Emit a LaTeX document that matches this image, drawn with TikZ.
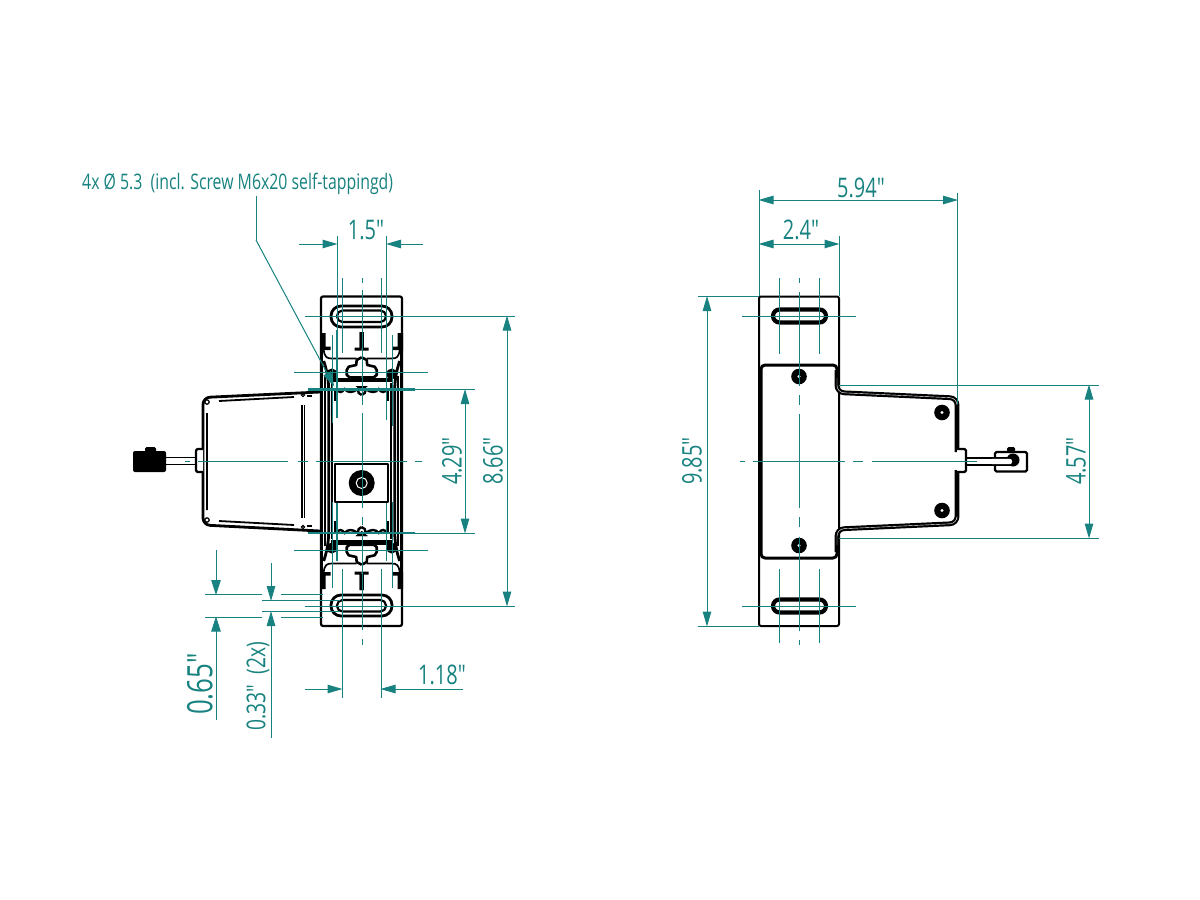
\documentclass[tikz,border=0pt]{standalone}
\usepackage{fontspec}
\newfontfamily\dimfont[FakeStretch=0.74]{Open Sans}
\usetikzlibrary{arrows.meta}
\definecolor{dimteal}{HTML}{17827F}
\tikzset{
	outline/.style={draw=black,line width=2.2pt,line join=round},
	heavy/.style={draw=black,line width=4.2pt,line join=round},
	thin part/.style={draw=black,line width=1.2pt},
	extline/.style={draw=dimteal,line width=1pt},
	dimline/.style={draw=dimteal,line width=1pt,-{Triangle[length=15pt,width=8.5pt]},shorten >=-0.5pt},
	bothtips/.style={{Triangle[length=15pt,width=8.5pt]}-{Triangle[length=15pt,width=8.5pt]},shorten <=-0.5pt},
	dimtext/.style={text=dimteal,font=\dimfont\fontsize{27}{27}\selectfont,inner sep=0pt}
}
\begin{document}
\begin{tikzpicture}[x=1pt,y=-1pt]
	\useasboundingbox (0,0) rectangle (1200,900);

	\draw[outline,rounded corners=2pt] (321,296.5) rectangle (402,626);
	\foreach \sx in {1,-1}
	\foreach \sy in {1,-1}
	{
		\begin{scope}[shift={(361.7,461)},xscale=\sx,yscale=\sy]
			\fill (-41.5,-128) -- (-36,-128) -- (-36,-114.5) -- (-31,-114.5) -- (-31,-111) -- (-41.5,-111) -- cycle;
			\fill (-2.2,-129) rectangle (2.2,-113) (-7,-113.5) rectangle (0,-110.5);
			\draw[thin part,line width=1.7pt] (-38,-111) .. controls (-37,-104) and (-35,-102.5) .. (-30,-102.5) -- (-5,-102.5);
			\draw[thin part,line width=2.6pt,line join=round] (0,-103.7) -- (-5,-101) -- (-5.5,-96) -- (-13,-94.3) -- (-15,-91) -- (-15,-86) -- (-12,-83.7) -- (0,-83.7);
			\fill (-30,-87) circle (5.5);
			\fill (-31,-83.5) rectangle (0,-79);
			\draw[thin part,line width=2.4pt] (0,-66) -- (-3,-68) -- (-4,-72) .. controls (-9,-68) and (-14,-68) .. (-17,-72) .. controls (-20,-68) and (-23,-68) .. (-25,-72);
			\fill (0,-70) -- (-6,-75) -- (6,-75) -- cycle;
			\draw[thin part,line width=3pt] (-40,-111) -- (-40,0);
			\draw[thin part,line width=1.6pt] (-36.5,-85) -- (-36.5,0);
			\draw[thin part,line width=2.8pt] (-38,-100) .. controls (-36,-94) and (-33,-84) .. (-33,-70) -- (-33,0);
			\draw[thin part,line width=2.4pt] (-29.5,-78) -- (-29.5,0);
			\draw[thin part,line width=2.4pt] (-26.5,-72) -- (-26.5,-60);
		\end{scope}
	}
	\fill[white] (335,464) rectangle (388,502);
	\draw[outline] (335,464) rectangle (388,502);
	\fill (361.7,483) circle (13);
	\draw[white,line width=1pt] (361.7,483) circle (5.5);
	\draw[outline,rounded corners=5.5pt,line width=2.2pt] (337,310.5) rectangle (386,322);
	\draw[outline,rounded corners=10pt,line width=2.8pt] (331,306) rectangle (392,327);
	\draw[outline,rounded corners=5.5pt,line width=2.2pt] (337,600) rectangle (386,611.5);
	\draw[outline,rounded corners=10pt,line width=2.8pt] (331,595) rectangle (392,616);

	\draw[outline,line width=2.8pt,rounded corners=7pt] (320,392) -- (203,397.5) -- (203,525) -- (320,531);
	\draw[thin part,line width=1.8pt] (207,413) -- (207,510) (219,401) -- (294,397) (219,521) -- (294,525);
	\draw[thin part] (207,402) circle (2.2) (207,520) circle (2.2) (303,395) circle (1.6) (303,527) circle (1.6);
	\draw[thin part,line width=1.4pt] (302,405) -- (302,518) (304.5,405) -- (304.5,518) (307,396) -- (312,396) (307,526) -- (312,526);
	\draw[outline,fill=white,rounded corners=1.5pt] (203,449) -- (196,449) -- (196,472) -- (203,472);
	\draw[thin part,line width=1.7pt] (166,457.5) -- (196,457.5) (166,464.5) -- (196,464.5);
	\fill[rounded corners=2pt] (133,451) rectangle (166,472);
	\fill[rounded corners=1.5pt] (145,447) rectangle (156,453);

	\draw[outline,line width=2pt,rounded corners=2pt] (759,296.5) rectangle (839,626);
	\draw[heavy,rounded corners=6.5pt] (773,309.5) rectangle (826,322.5);
	\draw[heavy,rounded corners=6.5pt] (773,599.5) rectangle (826,612.5);
	\draw[outline,line width=3pt,rounded corners=4pt] (837,380) -- (837,365) -- (761,365) -- (761,558) -- (837,558) -- (837,540);
	\draw[heavy,line width=4.8pt,rounded corners=7pt] (837,370) -- (837,392.5) -- (957,398) -- (957,452);
	\draw[heavy,line width=4.8pt,rounded corners=7pt] (957,470) -- (957,523.5) -- (837,529) -- (837,552);
	\draw[white,line width=0.4pt,rounded corners=7pt] (837,378) -- (837,392.5) -- (957,398) -- (957,403);
	\draw[white,line width=0.4pt,rounded corners=7pt] (837,545) -- (837,529) -- (957,523.5) -- (957,519);
	\foreach \hx/\hy in {799/376.5,942/412.5,942/510.5,799/545.5}
	{
		\fill (\hx,\hy) circle (7.8);
		\fill[white] (\hx,\hy) circle (1.7);
	}
	\draw[outline,fill=white,rounded corners=1.5pt] (957,449) -- (966,449) -- (966,472) -- (957,472);
	\draw[thin part,line width=1.7pt] (966,458) -- (1012,458) (966,465) -- (1012,465);
	\draw[outline,line width=2.4pt,rounded corners=1.5pt] (995,452) rectangle (1027,471.5);
	\fill (1013,460) circle (6.5);
	\fill[rounded corners=1.5pt] (1007,447) rectangle (1015,453);
	\fill[white,rounded corners=2pt] (990,458.9) rectangle (1012,464.1);

	\node[dimtext,anchor=west,font=\dimfont\fontsize{21.4}{22}\selectfont] (holelabel) at (82,184) {4x Ø 5.3\ \ (incl. Screw M6x20 self-tappingd)};
	\coordinate (holetip) at (334,386);
	\draw[extline] (256,196) -- (256,240);
	\draw[dimline] (256,240) -- (holetip);

	\draw[extline] (362,278) -- (362,283) (362,290) -- (362,405) (362,413) -- (362,508) (362,517) -- (362,525) (362,533) -- (362,630) (362,639) -- (362,645);
	\draw[extline] (185,461) -- (190,461) (198,461) -- (288,461) (298,461) -- (308,461) (316,461) -- (407,461) (415,461) -- (422,461);
	\draw[extline] (305,316) -- (515,316) (305,606) -- (515,606);
	\draw[extline] (294,372) -- (428,372) (294,550.5) -- (428,550.5);
	\draw[extline] (415,389.5) -- (475,389.5) (415,533) -- (475,533);
	\draw[extline,line width=2.4pt] (308,389.5) -- (415,389.5) (308,533) -- (415,533);
	\draw[extline] (337,236) -- (337,330) (386.5,236) -- (386.5,330);
	\draw[extline,line width=1.8pt] (337,330) -- (337,418) (386.5,330) -- (386.5,420) (337,503) -- (337,561) (386.5,503) -- (386.5,561);
	\draw[extline] (332,335) -- (332,423) (392,335) -- (392,426) (332,502) -- (332,588) (392,502) -- (392,588);
	\draw[extline] (342,278) -- (342,353) (381,278) -- (381,353) (342,569) -- (342,698) (381,569) -- (381,698);
	\draw[dimline] (299,244) -- (337,244);
	\draw[dimline] (423,244) -- (386.5,244);
	\node[dimtext] (widthlabel) at (366,230) {1.5"};
	\draw[dimline] (305,689) -- (342,689);
	\draw[dimline] (463,689) -- (381,689);
	\node[dimtext] (slotlabel) at (442,675) {1.18"};
	\draw[dimline,bothtips] (465,389.5) -- (465,533);
	\node[dimtext,rotate=90] (innerlabel) at (452,461) {4.29"};
	\draw[dimline,bothtips] (507,316) -- (507,606);
	\node[dimtext,rotate=90] (pitchlabel) at (493,461) {8.66"};

	\draw[extline] (205,594.5) -- (262,594.5) (281,594.5) -- (323,594.5) (205,617) -- (262,617) (281,617) -- (323,617);
	\draw[extline] (262,600.5) -- (340,600.5) (262,611.5) -- (340,611.5);
	\draw[dimline,-{Triangle[length=15pt,width=9.5pt]}] (216,550) -- (216,594.5);
	\draw[dimline,-{Triangle[length=15pt,width=9.5pt]}] (216,720) -- (216,617);
	\node[dimtext,rotate=90,font=\dimfont\fontsize{35}{35}\selectfont] (heightlabel) at (200,684) {0.65"};
	\draw[dimline] (271,563) -- (271,600.5);
	\draw[dimline] (271,738) -- (271,611.5);
	\node[dimtext,rotate=90,font=\dimfont\fontsize{26}{26}\selectfont] (gaplabel) at (258,686) {0.33"\ \ (2x)};

	\draw[extline] (759,190) -- (759,296) (839,236) -- (839,296) (957.5,193) -- (957.5,404);
	\draw[dimline,bothtips] (759,200) -- (957.5,200);
	\node[dimtext] (overalllabel) at (861,188) {5.94"};
	\draw[dimline,bothtips] (759,244) -- (839,244);
	\node[dimtext] (bodylabel) at (801,230) {2.4"};
	\draw[extline] (779.3,278) -- (779.3,354) (819,278) -- (819,354) (779.3,569) -- (779.3,643) (819,569) -- (819,643);
	\draw[extline] (799,278) -- (799,283) (799,292) -- (799,386) (799,395) -- (799,405) (799,414) -- (799,508) (799,517) -- (799,527) (799,537) -- (799,631) (799,640) -- (799,645);
	\draw[extline] (742,316) -- (856,316) (742,606) -- (856,606);
	\draw[extline] (698,296.5) -- (759,296.5) (698,626) -- (759,626);
	\draw[dimline,bothtips] (707,296.5) -- (707,626);
	\node[dimtext,rotate=90] (totallabel) at (692,461) {9.85"};
	\draw[extline] (839,385) -- (1099,385) (839,538) -- (1099,538);
	\draw[dimline,bothtips] (1089,385) -- (1089,538);
	\node[dimtext,rotate=90] (coverlabel) at (1076,461) {4.57"};
	\draw[extline] (740,461) -- (745,461) (753,461) -- (845,461) (853,461) -- (863,461) (872,461) -- (977,461);
\end{tikzpicture}
\end{document}
